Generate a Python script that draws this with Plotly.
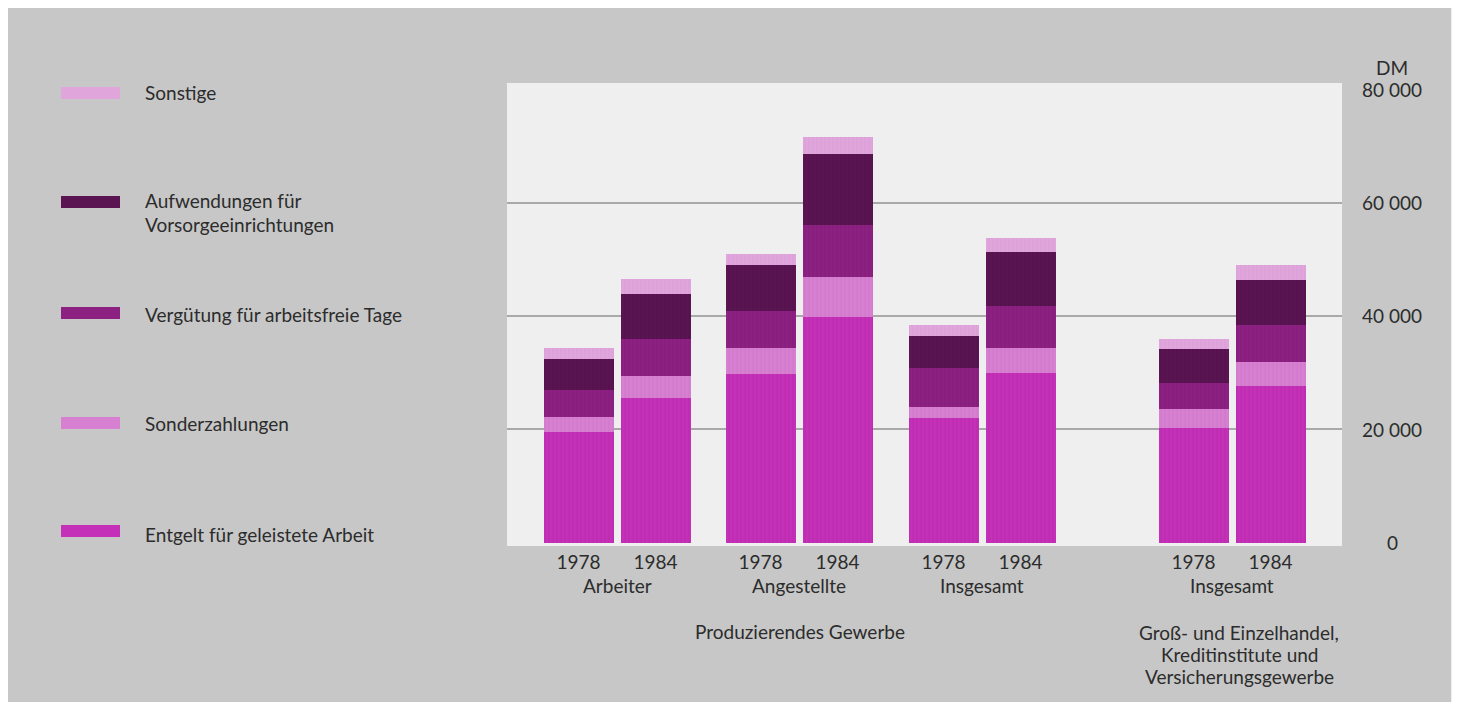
import plotly.graph_objects as go

# ---------------- data ----------------
years = ["1978", "1984"]
groups = ["Arbeiter", "Angestellte", "Insgesamt", "Insgesamt"]
sector_pg = ["Produzierendes Gewerbe"]
sector_handel = ["Groß- und Einzelhandel,", "Kreditinstitute und", "Versicherungsgewerbe"]

series_names = ["Entgelt für geleistete Arbeit",
                "Sonderzahlungen",
                "Vergütung für arbeitsfreie Tage",
                "Aufwendungen für Vorsorgeeinrichtungen",
                "Sonstige"]
legend_lines = [["Entgelt für geleistete Arbeit"],
                ["Sonderzahlungen"],
                ["Vergütung für arbeitsfreie Tage"],
                ["Aufwendungen für", "Vorsorgeeinrichtungen"],
                ["Sonstige"]]

# order of bars: Arbeiter 78/84, Angestellte 78/84, Insgesamt PG 78/84, Insgesamt Handel 78/84
entgelt      = [19600, 25500, 29800, 39800, 22000, 29900, 20200, 27600]
sonder       = [2500, 3900, 4600, 7100, 2000, 4500, 3400, 4200]
verguetung   = [4900, 6500, 6400, 9100, 6800, 7400, 4600, 6600]
aufwendungen = [5400, 8000, 8200, 12600, 5700, 9400, 5900, 7900]
sonstige     = [1900, 2600, 1900, 3000, 1900, 2600, 1800, 2700]

y_tick_vals = [0, 20000, 40000, 60000, 80000]
y_tick_text = ["0", "20 000", "40 000", "60 000", "80 000"]
unit_label = "DM"

# ---------------- layout geometry (screen pixels) ----------------
OFF = 8                                       # page body margin
W, H = 1460 - OFF, 702 - OFF
PL, PR, PT, PB = 507, 1342, 83, 546          # plot area in screen pixels
group_centers = [110, 292, 475, 725]          # x-axis units (1 unit = 1 px)
year_offset = 38.5
bar_width = 70

def px_x(px):
    return (px - PL) / (PR - PL)

def px_y(py):
    return (PB - py) / (PB - PT)

xs = []
for gc in group_centers:
    xs += [gc - year_offset, gc + year_offset]
year_text = years * len(group_centers)

colors = ["#c430b7", "#d77fd0", "#8c2182", "#5a1451", "#e0a6dc"]
stripe = ["#a01e96", "#b862b2", "#6e1466", "#420a3b", "#c888c4"]
values = [entgelt, sonder, verguetung, aufwendungen, sonstige]

FONT = "Lato, 'Open Sans', sans-serif"
FS = 19
TXT = "#2c2c2c"

fig = go.Figure()
for name, vals, c, s in zip(series_names, values, colors, stripe):
    fig.add_trace(go.Bar(
        x=xs, y=vals, name=name, width=bar_width,
        marker=dict(color=c, line=dict(width=0),
                    pattern=dict(shape="|", size=4, solidity=0.2,
                                 fgcolor=s, fgopacity=0.35, fillmode="overlay")),
        showlegend=False,
    ))

def txt(x, y, text, xref="paper", yref="paper", xanchor="center"):
    return dict(x=x, xref=xref, y=y, yref=yref, text=text, showarrow=False,
                xanchor=xanchor, yanchor="middle",
                font=dict(size=FS, color=TXT, family=FONT))

annotations = []
# y-axis labels (centered, right of plot)
for v, t in zip(y_tick_vals, y_tick_text):
    annotations.append(txt(px_x(1392), v, t, yref="y"))
annotations.append(txt(px_x(1392), px_y(67), unit_label))
# group labels
for gc, g in zip(group_centers, groups):
    annotations.append(txt(gc, px_y(585), g, xref="x"))
# sector labels
annotations.append(txt((group_centers[0] + group_centers[2]) / 2, px_y(631),
                       sector_pg[0], xref="x"))
for i, line in enumerate(sector_handel):
    annotations.append(txt(group_centers[3] + 7, px_y(632 + 22 * i), line, xref="x"))

# legend (manual, left side): swatch centre y, first text line centre y
legend_rows = [(4, 93, 92), (3, 202, 201), (2, 313, 314), (1, 423, 423), (0, 531, 534)]
shapes = []
for idx, sy, ty in legend_rows:
    shapes.append(dict(type="rect", xref="paper", yref="paper",
                       x0=px_x(61), x1=px_x(120), y0=px_y(sy + 6), y1=px_y(sy - 6),
                       fillcolor=colors[idx], line=dict(width=0)))
    for j, line in enumerate(legend_lines[idx]):
        annotations.append(txt(px_x(143), px_y(ty + 23 * j), line, xanchor="left"))

# light scan border strip on the right
shapes.append(dict(type="rect", xref="paper", yref="paper", x0=px_x(1451),
                   x1=px_x(1470), y0=px_y(720), y1=px_y(0), fillcolor="#efefef",
                   line=dict(width=0), layer="below"))

fig.update_layout(
    width=W, height=H,
    margin=dict(l=PL - OFF, r=W - (PR - OFF), t=PT - OFF, b=H - (PB - OFF), pad=0),
    barmode="stack",
    paper_bgcolor="#c7c7c7",
    plot_bgcolor="#efefef",
    font=dict(family=FONT, size=FS, color=TXT),
    xaxis=dict(range=[0, PR - PL], tickvals=xs, ticktext=year_text,
               showgrid=False, zeroline=False, showline=False, ticks="",
               tickfont=dict(size=FS, color=TXT, family=FONT),
               ticklabelstandoff=3, fixedrange=True),
    yaxis=dict(range=[-600, 81100], tickvals=[20000, 40000, 60000],
               showticklabels=False, showgrid=True, gridcolor="#a9a9a9",
               gridwidth=2, zeroline=False, showline=False, ticks="",
               fixedrange=True),
    annotations=annotations,
    shapes=shapes,
    bargap=0,
)

fig.write_html("out.html")
